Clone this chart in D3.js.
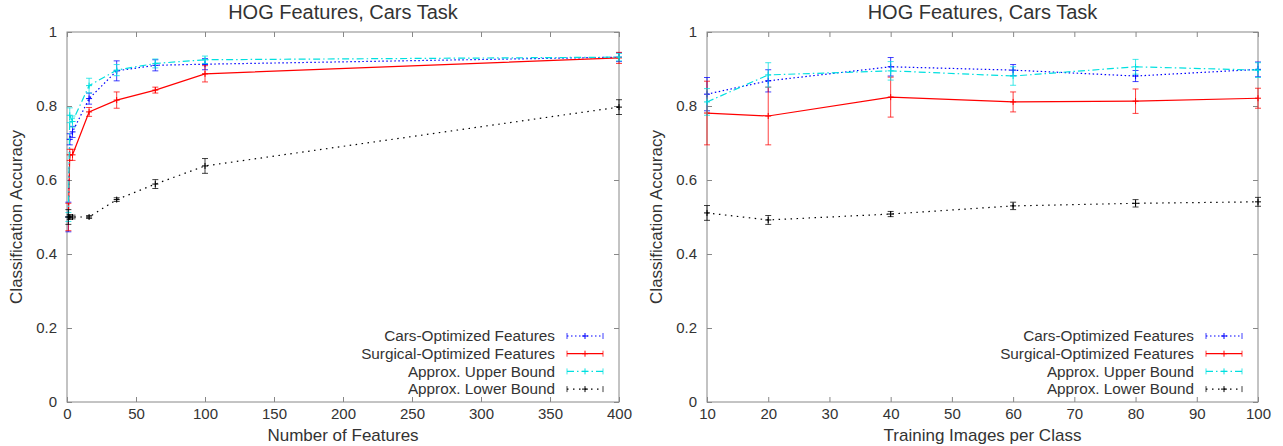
<!DOCTYPE html>
<html>
<head>
<meta charset="utf-8">
<script src="https://cdn.jsdelivr.net/npm/d3@7"></script>
<style>
  body { margin: 0; background: #fff; }
  svg text { font-family: "Liberation Sans", Arial, sans-serif; fill: #333; }
  .title { font-size: 20px; }
  .axis-label { font-size: 17px; }
  .legend text { font-size: 15.3px; }
</style>
</head>
<body>
<div id="chart"></div>
<script>
// Left panel: number of features
const featX = [1, 2, 4, 16, 36, 64, 100, 400];
const featCars = [0.50, 0.71, 0.73, 0.82, 0.895, 0.91, 0.913, 0.932];
const featCarsErr = [0.04, 0.015, 0.015, 0.015, 0.027, 0.015, 0.015, 0.012];
const featSurg = [0.50, 0.668, 0.668, 0.784, 0.816, 0.843, 0.887, 0.93];
const featSurgErr = [0.037, 0.015, 0.015, 0.012, 0.022, 0.008, 0.022, 0.015];
const featUpper = [0.50, 0.775, 0.758, 0.855, 0.897, 0.915, 0.925, 0.932];
const featUpperErr = [0.012, 0.02, 0.015, 0.02, 0.015, 0.012, 0.01, 0.01];
const featLower = [0.50, 0.50, 0.50, 0.50, 0.547, 0.589, 0.638, 0.797];
const featLowerErr = [0.02, 0.006, 0.005, 0.004, 0.005, 0.012, 0.02, 0.02];

// Right panel: training images per class
const trainX = [10, 20, 40, 60, 80, 100];
const trainCars = [0.832, 0.868, 0.906, 0.897, 0.881, 0.899];
const trainCarsErr = [0.045, 0.03, 0.025, 0.015, 0.015, 0.02];
const trainSurg = [0.781, 0.773, 0.824, 0.811, 0.813, 0.821];
const trainSurgErr = [0.086, 0.078, 0.054, 0.027, 0.033, 0.027];
const trainUpper = [0.811, 0.884, 0.895, 0.881, 0.906, 0.897];
const trainUpperErr = [0.036, 0.033, 0.025, 0.025, 0.02, 0.02];
const trainLower = [0.511, 0.492, 0.508, 0.53, 0.537, 0.541];
const trainLowerErr = [0.02, 0.012, 0.007, 0.01, 0.01, 0.012];

const yTicks = [0, 0.2, 0.4, 0.6, 0.8, 1];
const featTicks = [0, 50, 100, 150, 200, 250, 300, 350, 400];
const trainTicks = [10, 20, 30, 40, 50, 60, 70, 80, 90, 100];

const seriesNames = ["Cars-Optimized Features", "Surgical-Optimized Features",
                     "Approx. Upper Bound", "Approx. Lower Bound"];
const seriesColors = ["#0000ff", "#ff0000", "#00e0e0", "#000000"];
const seriesDash = ["1.5,2.5", null, "7,3,1.5,3", "1.5,4.5"];

const svg = d3.select("#chart").append("svg")
    .attr("width", 1283)
    .attr("height", 446);

const panels = [
  { left: 67, right: 619, xDomain: [0, 400], ticks: featTicks, xs: featX,
    xLabel: "Number of Features",
    series: [[featCars, featCarsErr], [featSurg, featSurgErr],
             [featUpper, featUpperErr], [featLower, featLowerErr]] },
  { left: 707, right: 1258, xDomain: [10, 100], ticks: trainTicks, xs: trainX,
    xLabel: "Training Images per Class",
    series: [[trainCars, trainCarsErr], [trainSurg, trainSurgErr],
             [trainUpper, trainUpperErr], [trainLower, trainLowerErr]] }
];

const plotTop = 32, plotBottom = 402;

panels.forEach(p => {
  const x = d3.scaleLinear().domain(p.xDomain).range([p.left, p.right]);
  const y = d3.scaleLinear().domain([0, 1]).range([plotBottom, plotTop]);
  const g = svg.append("g");

  // frame
  g.append("rect")
    .attr("x", p.left).attr("y", plotTop)
    .attr("width", p.right - p.left).attr("height", plotBottom - plotTop)
    .attr("fill", "none").attr("stroke", "#888").attr("stroke-width", 1);

  // axes (gnuplot style: inward ticks, mirrored)
  const axB = g.append("g").attr("transform", `translate(0,${plotBottom})`)
    .call(d3.axisBottom(x).tickValues(p.ticks).tickSize(-5).tickPadding(6).tickFormat(d => d));
  const axT = g.append("g").attr("transform", `translate(0,${plotTop})`)
    .call(d3.axisTop(x).tickValues(p.ticks).tickSize(-5).tickFormat(""));
  const axL = g.append("g").attr("transform", `translate(${p.left},0)`)
    .call(d3.axisLeft(y).tickValues(yTicks).tickSize(-5).tickPadding(10).tickFormat(d => d));
  const axR = g.append("g").attr("transform", `translate(${p.right},0)`)
    .call(d3.axisRight(y).tickValues(yTicks).tickSize(-5).tickFormat(""));
  [axB, axT, axL, axR].forEach(a => {
    a.select(".domain").remove();
    a.selectAll(".tick line").attr("stroke", "#888");
    a.selectAll(".tick text").attr("fill", "#333")
      .style("font-family", "Liberation Sans, Arial, sans-serif")
      .style("font-size", "15px");
  });

  // titles
  const cx = (p.left + p.right) / 2;
  g.append("text").attr("class", "title")
    .attr("x", cx).attr("y", 19).attr("text-anchor", "middle")
    .text("HOG Features, Cars Task");
  g.append("text").attr("class", "axis-label")
    .attr("x", cx).attr("y", 441).attr("text-anchor", "middle")
    .text(p.xLabel);
  g.append("text").attr("class", "axis-label")
    .attr("transform", `translate(${p.left - 45},${(plotTop + plotBottom) / 2}) rotate(-90)`)
    .attr("text-anchor", "middle")
    .text("Classification Accuracy");

  // series
  p.series.forEach((s, i) => {
    const [vals, errs] = s;
    const pts = p.xs.map((xv, j) => ({ x: xv, y: vals[j], e: errs[j] }));
    const color = seriesColors[i];
    const sg = g.append("g");

    sg.append("path").datum(pts)
      .attr("fill", "none").attr("stroke", color).attr("stroke-width", 1.2)
      .attr("stroke-dasharray", seriesDash[i])
      .attr("d", d3.line().x(d => x(d.x)).y(d => y(d.y)));

    const eb = sg.selectAll(".eb").data(pts).enter().append("g")
      .attr("stroke", color).attr("stroke-width", 1).attr("stroke-opacity", 0.75);
    eb.append("line")
      .attr("x1", d => x(d.x)).attr("x2", d => x(d.x))
      .attr("y1", d => y(d.y - d.e)).attr("y2", d => y(d.y + d.e));
    eb.append("line")
      .attr("x1", d => x(d.x) - 3).attr("x2", d => x(d.x) + 3)
      .attr("y1", d => y(d.y - d.e)).attr("y2", d => y(d.y - d.e));
    eb.append("line")
      .attr("x1", d => x(d.x) - 3).attr("x2", d => x(d.x) + 3)
      .attr("y1", d => y(d.y + d.e)).attr("y2", d => y(d.y + d.e));
    // plus markers
    eb.append("path")
      .attr("stroke-opacity", 1)
      .attr("d", d => `M${x(d.x) - 3},${y(d.y)}h6M${x(d.x)},${y(d.y) - 3}v6`);
  });

  // legend
  const lg = g.append("g").attr("class", "legend");
  const textEnd = p.right - 64, s0 = p.right - 52, s1 = p.right - 16;
  seriesNames.forEach((name, i) => {
    const ly = 336 + i * 17.7;
    lg.append("text").attr("x", textEnd).attr("y", ly).attr("dy", "0.35em")
      .attr("text-anchor", "end").text(name);
    const c = seriesColors[i];
    lg.append("line").attr("x1", s0).attr("x2", s1).attr("y1", ly).attr("y2", ly)
      .attr("stroke", c).attr("stroke-width", 1.2).attr("stroke-dasharray", seriesDash[i]);
    [s0, s1].forEach(sx => lg.append("line")
      .attr("x1", sx).attr("x2", sx).attr("y1", ly - 3).attr("y2", ly + 3)
      .attr("stroke", c).attr("stroke-opacity", 0.75));
    const mx = (s0 + s1) / 2;
    lg.append("path").attr("stroke", c)
      .attr("d", `M${mx - 3},${ly}h6M${mx},${ly - 3}v6`);
  });
});
</script>
</body>
</html>
